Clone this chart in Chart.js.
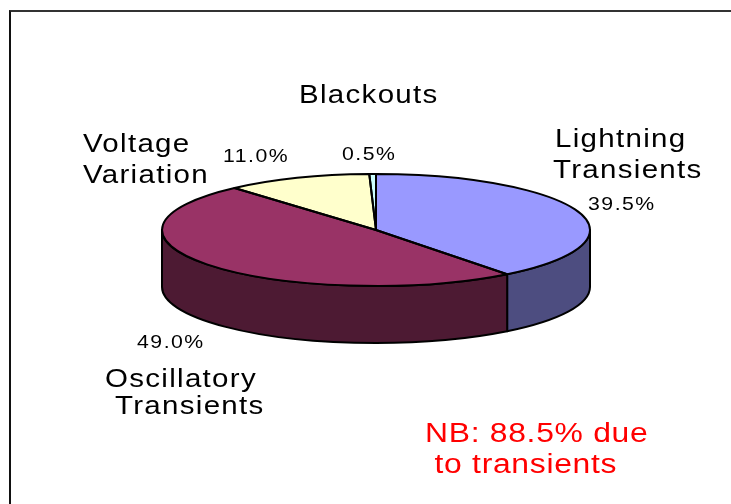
<!DOCTYPE html>
<html>
<head>
<meta charset="utf-8">
<script src="https://cdn.jsdelivr.net/npm/chart.js@4/dist/chart.umd.min.js"></script>
<style>
  html, body { margin: 0; padding: 0; background: #fff; }
  #wrap { position: relative; width: 731px; height: 504px; overflow: hidden; }
  #frame { position: absolute; left: 9px; top: 10px; width: 760px; height: 520px;
           border-top: 2px solid #333; border-left: 2px solid #111; }
  canvas { position: absolute; left: 0; top: 0; }
</style>
</head>
<body>
<div id="wrap">
  <div id="frame"></div>
  <canvas id="pieChart" width="731" height="504"></canvas>
</div>
<script>
const categories = [
  ['Lightning', 'Transients'],
  ['Oscillatory', 'Transients'],
  ['Voltage', 'Variation'],
  ['Blackouts'],
];
const shares = [39.5, 49.0, 11.0, 0.5];
const noteLines = ['NB: 88.5% due', ' to transients'];

const topColors = ['#9999FF', '#993366', '#FFFFCC', '#CCFFFF'];
const sideColors = ['#4D4D80', '#4D1A33', '#80806A', '#6A8080'];

// pie shape: ellipse squash and depth of the side wall
const squash = 56 / 214;
const depth = 57;

// label spots, offsets from the pie centre (left x, baseline y)
const labelSpots = [
  { name: [[179, -83], [177, -52]], pct: [212, -20] },
  { name: [[-271, 157], [-261, 184]], pct: [-239, 118] },
  { name: [[-293, -78], [-293, -47]], pct: [-153, -68] },
  { name: [[-77, -127]], pct: [-34, -70] },
];

function pieGeom(chart) {
  const arcs = chart.getDatasetMeta(0).data;
  const a = arcs[0];
  return { arcs, cx: a.x, cy: a.y, rx: a.outerRadius, ry: a.outerRadius * squash };
}

// wide, slightly tracked text like the original
function wideText(ctx, t, x, y, size, spacing) {
  const sx = 1.18;
  ctx.save();
  ctx.translate(x, y);
  ctx.scale(sx, 1);
  ctx.font = size + 'px "Liberation Sans", Arial, sans-serif';
  ctx.letterSpacing = (spacing / sx) + 'px';
  ctx.fillText(t, 0, 0);
  ctx.restore();
}

const pie3d = {
  id: 'pie3d',
  beforeDatasetsDraw(chart) {
    const ctx = chart.ctx;
    const g = pieGeom(chart);
    // side walls on the front half
    g.arcs.forEach((arc, i) => {
      const s = Math.max(arc.startAngle, 0);
      const e = Math.min(arc.endAngle, Math.PI);
      if (e <= s) return;
      ctx.save();
      ctx.beginPath();
      ctx.ellipse(g.cx, g.cy, g.rx, g.ry, 0, s, e, false);
      ctx.lineTo(g.cx + g.rx * Math.cos(e), g.cy + depth + g.ry * Math.sin(e));
      ctx.ellipse(g.cx, g.cy + depth, g.rx, g.ry, 0, e, s, true);
      ctx.closePath();
      ctx.fillStyle = sideColors[i];
      ctx.fill();
      ctx.lineWidth = 2;
      ctx.strokeStyle = '#000';
      ctx.lineJoin = 'round';
      ctx.stroke();
      ctx.restore();
    });
    // flatten the library's pie into the top face
    ctx.save();
    ctx.translate(g.cx, g.cy);
    ctx.scale(1, squash);
    ctx.translate(-g.cx, -g.cy);
  },
  afterDatasetsDraw(chart) {
    const ctx = chart.ctx;
    ctx.restore();
    const g = pieGeom(chart);
    ctx.save();
    ctx.lineWidth = 2;
    ctx.strokeStyle = '#000';
    ctx.lineJoin = 'round';
    g.arcs.forEach((arc) => {
      ctx.beginPath();
      ctx.moveTo(g.cx, g.cy);
      ctx.ellipse(g.cx, g.cy, g.rx, g.ry, 0, arc.startAngle, arc.endAngle, false);
      ctx.closePath();
      ctx.stroke();
    });
    ctx.restore();
  },
  afterDraw(chart) {
    const ctx = chart.ctx;
    const g = pieGeom(chart);
    ctx.save();
    ctx.textAlign = 'left';
    ctx.textBaseline = 'alphabetic';
    ctx.fillStyle = '#000';
    categories.forEach((lines, i) => {
      const spot = labelSpots[i];
      lines.forEach((t, j) => {
        wideText(ctx, t, g.cx + spot.name[j][0], g.cy + spot.name[j][1], 25, 1.3);
      });
      wideText(ctx, shares[i].toFixed(1) + '%', g.cx + spot.pct[0], g.cy + spot.pct[1], 18, 1.5);
    });
    ctx.fillStyle = '#FF0000';
    wideText(ctx, noteLines[0], 425, 442, 27, 0.7);
    wideText(ctx, noteLines[1], 425, 473, 27, 0.7);
    ctx.restore();
  },
};

const ctx = document.getElementById('pieChart').getContext('2d');
new Chart(ctx, {
  type: 'pie',
  data: {
    labels: categories.map(l => l.join(' ')),
    datasets: [{
      data: shares,
      backgroundColor: topColors,
      borderWidth: 0,
    }],
  },
  options: {
    responsive: false,
    animation: false,
    events: [],
    layout: { padding: { left: 162, right: 141, top: 16, bottom: 60 } },
    plugins: {
      legend: { display: false },
      tooltip: { enabled: false },
    },
  },
  plugins: [pie3d],
});
</script>
</body>
</html>
